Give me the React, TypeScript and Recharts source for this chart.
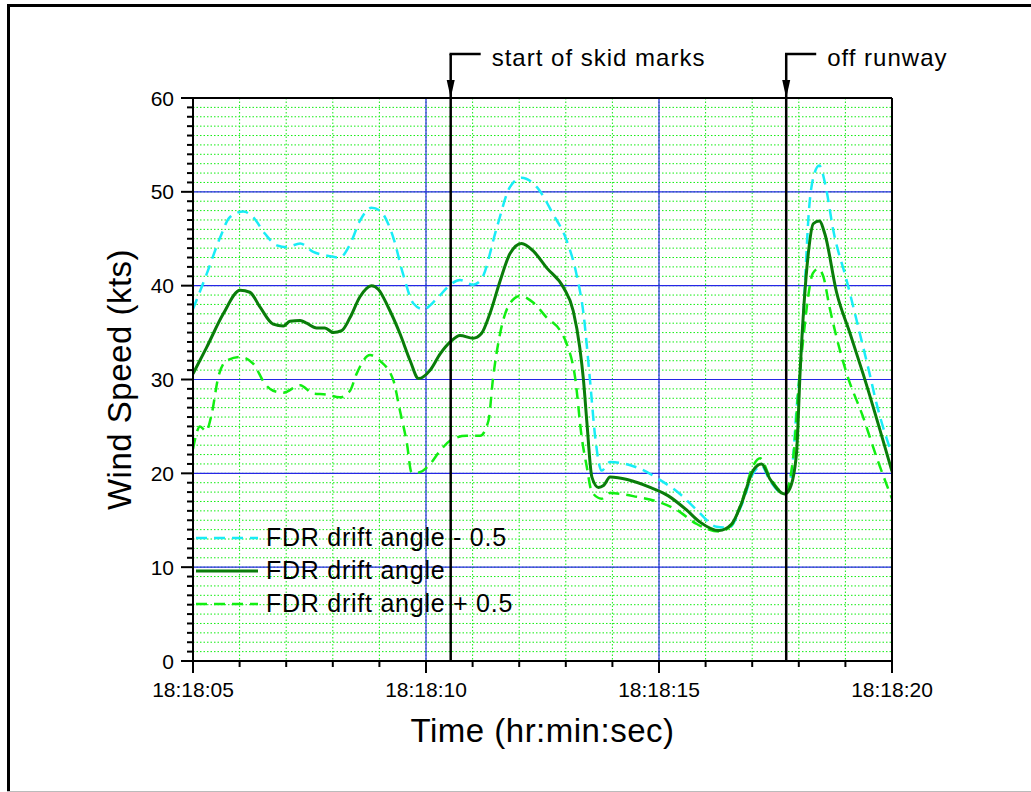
import React from 'react';
import {
  LineChart,
  Line,
  XAxis,
  YAxis,
  CartesianGrid,
  ReferenceLine,
  Legend,
} from 'recharts';

const FONT = '"Liberation Sans", Arial, Helvetica, sans-serif';

// time in seconds past 18:18:00
const minusTimes = [5.0, 5.29, 5.58, 5.79, 6.08, 6.29, 6.55, 6.8, 7.01, 7.3, 7.58, 7.87, 8.15, 8.37, 8.58, 8.83, 9.01, 9.3, 9.51, 9.73, 9.94, 10.23, 10.52, 10.73, 11.01, 11.19, 11.52, 11.8, 12.05, 12.38, 12.73, 13.02, 13.23, 13.38, 13.52, 13.63, 13.77, 13.95, 14.59, 15.02, 15.45, 15.81, 16.24, 16.5, 16.77, 17.02, 17.2, 17.38, 17.7, 17.85, 17.96, 18.05, 18.13, 18.21, 18.31, 18.44, 18.58, 18.74, 19.03, 19.31, 19.52, 19.67, 20.0];
const minusValues = [37.5, 41.2, 45.1, 47.3, 47.9, 47.3, 45.5, 44.3, 44.1, 44.5, 43.6, 43.2, 43.0, 44.4, 46.9, 48.3, 48.0, 45.1, 41.2, 38.1, 37.5, 38.6, 40.1, 40.6, 40.1, 40.7, 46.2, 50.5, 51.5, 50.5, 47.6, 44.8, 41.2, 37.0, 29.9, 23.9, 20.3, 21.2, 20.5, 19.3, 17.8, 16.1, 14.3, 14.2, 16.6, 20.0, 20.8, 19.2, 17.8, 20.3, 27.4, 32.5, 40.0, 47.5, 51.5, 52.8, 50.5, 45.9, 40.5, 34.9, 30.6, 27.4, 22.0];

const driftTimes = [5.0, 5.29, 5.65, 6.01, 6.22, 6.44, 6.72, 6.94, 7.08, 7.3, 7.44, 7.65, 7.83, 8.01, 8.19, 8.37, 8.58, 8.83, 8.98, 9.19, 9.44, 9.66, 9.84, 10.09, 10.3, 10.52, 10.73, 11.01, 11.19, 11.37, 11.59, 11.8, 12.05, 12.3, 12.59, 12.95, 13.16, 13.3, 13.38, 13.45, 13.56, 13.7, 13.81, 13.95, 14.81, 15.2, 15.59, 15.88, 16.29, 16.56, 16.77, 17.02, 17.2, 17.38, 17.7, 17.81, 17.95, 18.03, 18.21, 18.31, 18.44, 18.56, 18.81, 19.1, 19.38, 20.0];
const driftValues = [30.6, 33.4, 37.0, 39.5, 39.3, 37.7, 35.9, 35.7, 36.2, 36.3, 36.0, 35.5, 35.5, 35.0, 35.2, 36.6, 38.8, 40.0, 39.6, 37.7, 34.9, 32.0, 30.1, 31.0, 32.7, 34.0, 34.7, 34.4, 34.9, 37.0, 40.5, 43.4, 44.5, 43.7, 41.9, 39.8, 37.3, 33.4, 29.9, 25.6, 19.6, 18.5, 18.7, 19.6, 18.5, 17.6, 16.1, 14.8, 13.9, 14.6, 16.8, 20.3, 21.0, 19.4, 17.8, 18.4, 22.1, 31.0, 43.7, 46.6, 46.9, 45.5, 39.3, 34.9, 30.6, 20.2];

const plusTimes = [5.0, 5.15, 5.28, 5.4, 5.54, 5.72, 6.01, 6.29, 6.55, 6.72, 6.94, 7.3, 7.58, 7.87, 8.15, 8.37, 8.51, 8.8, 9.01, 9.3, 9.44, 9.59, 9.69, 9.84, 10.09, 10.3, 10.59, 10.87, 11.16, 11.34, 11.44, 11.59, 11.8, 12.02, 12.3, 12.59, 12.88, 13.02, 13.2, 13.34, 13.45, 13.56, 13.77, 13.95, 14.52, 15.02, 15.38, 15.81, 16.3, 16.56, 16.77, 17.02, 17.17, 17.38, 17.7, 17.89, 18.0, 18.1, 18.2, 18.3, 18.42, 18.53, 18.66, 18.81, 19.03, 19.38, 19.67, 20.0];
const plusValues = [22.6, 25.0, 24.5, 26.3, 30.2, 32.0, 32.4, 31.7, 29.5, 28.8, 28.6, 29.4, 28.5, 28.4, 28.1, 28.8, 30.6, 32.6, 32.0, 29.9, 26.7, 23.2, 20.1, 20.1, 21.0, 22.4, 23.7, 24.0, 24.0, 25.6, 30.2, 34.9, 38.1, 38.9, 38.2, 36.6, 35.2, 33.8, 30.2, 23.9, 20.7, 18.0, 17.3, 17.9, 17.5, 16.9, 16.1, 14.6, 13.8, 14.5, 16.9, 20.8, 21.6, 19.6, 17.9, 22.1, 29.5, 34.5, 38.8, 41.3, 41.8, 40.9, 37.7, 34.5, 30.6, 26.0, 21.7, 17.3];

const yTicks = Array.from({ length: 61 }, (_, i) => i);
const yMajor = [0, 10, 20, 30, 40, 50, 60];
const yBlue = [10, 20, 30, 40, 50];
const xTicks = [5, 6, 7, 8, 9, 10, 11, 12, 13, 14, 15, 16, 17, 18, 19, 20];
const xMajor = [5, 10, 15, 20];
const xLabels = ['18:18:05', '18:18:10', '18:18:15', '18:18:20'];
const xBlue = [10, 15];

const eventTimes = [10.53, 17.73];
const eventLabels = ['start of skid marks', 'off runway'];

const CYAN = '#19ecf6';
const LIME = '#12ee12';
const DARK = '#0a7c0a';
const BLUE = '#2626e6';

const toPoints = (times: number[], values: number[]) =>
  times.map((t, i) => ({ t, v: values[i] }));

const minusData = toPoints(minusTimes, minusValues);
const driftData = toPoints(driftTimes, driftValues);
const plusData = toPoints(plusTimes, plusValues);

const legendRows = [
  { name: 'FDR drift angle - 0.5', color: CYAN, dash: '11 7', width: 2.5 },
  { name: 'FDR drift angle', color: DARK, dash: undefined, width: 3 },
  { name: 'FDR drift angle + 0.5', color: LIME, dash: '11 7', width: 2.5 },
];

function YTick(props: any) {
  const { x, y, payload } = props;
  const major = yMajor.includes(payload.value);
  return (
    <g>
      <line x1={x - (major ? 12 : 6)} x2={x} y1={y} y2={y} stroke="#000" strokeWidth={2} />
      {major && (
        <text
          x={x - 19}
          y={y}
          dy="0.36em"
          textAnchor="end"
          fontSize={21}
          fontFamily={FONT}
          fill="#000"
        >
          {payload.value}
        </text>
      )}
    </g>
  );
}

function XTick(props: any) {
  const { x, y, payload } = props;
  const idx = xMajor.indexOf(payload.value);
  return (
    <g>
      <line x1={x} x2={x} y1={y} y2={y + (idx >= 0 ? 12 : 6)} stroke="#000" strokeWidth={2} />
      {idx >= 0 && (
        <text x={x} y={y + 36} textAnchor="middle" fontSize={21} fontFamily={FONT} fill="#000">
          {xLabels[idx]}
        </text>
      )}
    </g>
  );
}

const eventMarker = (label: string) => (props: any) => {
  const { x1, y1, y2 } = props;
  const plotTop = Math.min(y1, y2);
  const plotBottom = Math.max(y1, y2);
  const top = plotTop - 44;
  return (
    <g>
      <line x1={x1} x2={x1} y1={top} y2={plotBottom} stroke="#000" strokeWidth={2.5} />
      <line x1={x1 - 1.2} x2={x1 + 30} y1={top} y2={top} stroke="#000" strokeWidth={2.5} />
      <polygon
        points={`${x1 - 4},${plotTop - 18} ${x1 + 4},${plotTop - 18} ${x1},${plotTop}`}
        fill="#000"
      />
      <text
        x={x1 + 41}
        y={top + 11.5}
        fontSize={24}
        letterSpacing={1}
        fontFamily={FONT}
        fill="#000"
      >
        {label}
      </text>
    </g>
  );
};

function renderLegend() {
  return (
    <div style={{ fontFamily: FONT }}>
      {legendRows.map((r) => (
        <div key={r.name} style={{ display: 'flex', alignItems: 'center', height: 33 }}>
          <svg width={62} height={8} style={{ display: 'block' }}>
            <line
              x1={0}
              x2={62}
              y1={4}
              y2={4}
              stroke={r.color}
              strokeWidth={r.width}
              strokeDasharray={r.dash}
            />
          </svg>
          <span
            style={{
              marginLeft: 8,
              fontSize: 25,
              letterSpacing: 0.75,
              color: '#000',
              whiteSpace: 'nowrap',
              lineHeight: '33px',
            }}
          >
            {r.name}
          </span>
        </div>
      ))}
    </div>
  );
}

export default function App() {
  return (
    <div
      style={{
        position: 'absolute',
        left: 0,
        top: 0,
        width: 1031,
        height: 792,
        overflow: 'hidden',
        background: '#fff',
      }}
    >
      <div style={{ position: 'absolute', left: 7, top: 4, width: 3, height: 790, background: '#000' }} />
      <div style={{ position: 'absolute', left: 7, top: 4, width: 1030, height: 3, background: '#000' }} />
      <div style={{ position: 'absolute', left: 7, top: 791, width: 1030, height: 1, background: '#bbb' }} />

      <div style={{ position: 'absolute', left: 0, top: 0 }}>
        <LineChart width={1031} height={792} margin={{ top: 98, right: 139, bottom: 0, left: 0 }}>
          <CartesianGrid
            horizontalValues={yTicks}
            verticalValues={xTicks}
            stroke={LIME}
            strokeDasharray="1.5 2"
            strokeWidth={1}
          />
          {yBlue.map((v) => (
            <ReferenceLine key={`hy-${v}`} y={v} stroke={BLUE} strokeWidth={1.2} />
          ))}
          {xBlue.map((v) => (
            <ReferenceLine key={`vx-${v}`} x={v} stroke={BLUE} strokeWidth={1.2} />
          ))}
          <XAxis
            dataKey="t"
            type="number"
            domain={[5, 20]}
            allowDataOverflow
            ticks={xTicks}
            interval={0}
            tick={<XTick />}
            tickLine={false}
            tickSize={0}
            tickMargin={0}
            height={131}
            axisLine={{ stroke: '#000', strokeWidth: 2 }}
            label={{
              value: 'Time (hr:min:sec)',
              position: 'insideBottom',
              offset: 50,
              fontSize: 33,
              fill: '#000',
              style: { fontFamily: FONT, letterSpacing: 0.5 },
            }}
          />
          <YAxis
            type="number"
            domain={[0, 60]}
            ticks={yTicks}
            interval={0}
            tick={<YTick />}
            tickLine={false}
            tickSize={0}
            tickMargin={0}
            width={193}
            axisLine={{ stroke: '#000', strokeWidth: 2 }}
            label={{
              value: 'Wind Speed (kts)',
              angle: -90,
              position: 'insideLeft',
              offset: 119,
              fontSize: 33,
              fill: '#000',
              style: { fontFamily: FONT, letterSpacing: 0.5, textAnchor: 'middle' },
            }}
          />
          <Line
            data={minusData}
            dataKey="v"
            type="monotone"
            stroke={CYAN}
            strokeWidth={2.5}
            strokeDasharray="11 7"
            dot={false}
            isAnimationActive={false}
          />
          <Line
            data={plusData}
            dataKey="v"
            type="monotone"
            stroke={LIME}
            strokeWidth={2.5}
            strokeDasharray="11 7"
            dot={false}
            isAnimationActive={false}
          />
          <Line
            data={driftData}
            dataKey="v"
            type="monotone"
            stroke={DARK}
            strokeWidth={3}
            dot={false}
            isAnimationActive={false}
          />
          <ReferenceLine y={60} stroke="#000" strokeWidth={2} />
          <ReferenceLine x={20} stroke="#000" strokeWidth={2} />
          {eventTimes.map((t, i) => (
            <ReferenceLine key={`ev-${t}`} x={t} shape={eventMarker(eventLabels[i])} />
          ))}
          <Legend
            layout="vertical"
            align="center"
            verticalAlign="middle"
            content={renderLegend}
            wrapperStyle={{ left: 196, top: 521, width: 330, height: 99 }}
          />
        </LineChart>
      </div>
    </div>
  );
}
